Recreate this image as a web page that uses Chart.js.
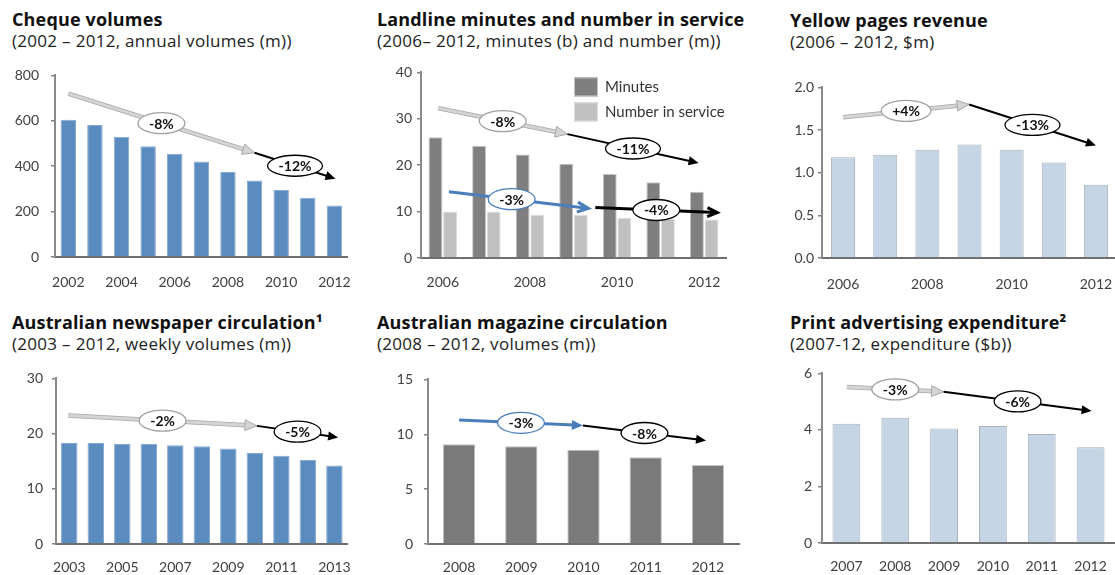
<!DOCTYPE html>
<html>
<head>
<meta charset="utf-8">
<script src="https://cdn.jsdelivr.net/npm/chart.js@4/dist/chart.umd.min.js"></script>
<style>
  body { margin: 0; width: 1115px; height: 575px; overflow: hidden; position: relative; background: #fff; }
  .t { position: absolute; font: bold 18px/20px 'Open Sans', sans-serif; letter-spacing: 0.15px; color: #111; white-space: nowrap; }
  .s { position: absolute; font: 17px/20px 'Open Sans', sans-serif; letter-spacing: 0.3px; color: #222; white-space: nowrap; }
  canvas { position: absolute; }
</style>
</head>
<body>
<div class="t" style="left:12px;top:9px">Cheque volumes</div>
<div class="s" style="left:12px;top:31px">(2002 – 2012, annual volumes (m))</div>
<div class="t" style="left:377px;top:9px">Landline minutes and number in service</div>
<div class="s" style="left:377px;top:31px">(2006– 2012, minutes (b) and number (m))</div>
<div class="t" style="left:790px;top:10px">Yellow pages revenue</div>
<div class="s" style="left:790px;top:32px">(2006 – 2012, $m)</div>
<div class="t" style="left:12px;top:312px">Australian newspaper circulation¹</div>
<div class="s" style="left:12px;top:334px">(2003 – 2012, weekly volumes (m))</div>
<div class="t" style="left:377px;top:312px">Australian magazine circulation</div>
<div class="s" style="left:377px;top:334px">(2008 – 2012, volumes (m))</div>
<div class="t" style="left:790px;top:312px">Print advertising expenditure²</div>
<div class="s" style="left:790px;top:334px">(2007-12, expenditure ($b))</div>

<canvas id="cheque"></canvas>
<canvas id="landline"></canvas>
<canvas id="yellow"></canvas>
<canvas id="newspaper"></canvas>
<canvas id="magazine"></canvas>
<canvas id="printAdv"></canvas>

<script>
// ---- data ----
const chequeYears = ['2002', '2003', '2004', '2005', '2006', '2007', '2008', '2009', '2010', '2011', '2012'];
const chequeVolumes = [605, 581, 530, 488, 455, 421, 375, 337, 295, 261, 227];
const chequeTrends = [
  { from: [0, 720], to: [7, 459], label: '-8%', style: 'grey' },
  { from: [7, 459], to: [10.04, 345], label: '-12%', style: 'black' }
];

const landlineYears = ['2006', '2007', '2008', '2009', '2010', '2011', '2012'];
const landlineMinutes = [26, 24.2, 22.3, 20.3, 18.1, 16.3, 14.3];
const landlineInService = [10, 10, 9.3, 9.3, 8.7, 8.5, 8.3];
const landlineTrends = [
  { from: [-0.11, 32.3], to: [2.86, 26.7], label: '-8%', style: 'grey' },
  { from: [2.86, 26.7], to: [5.87, 20.5], label: '-11%', style: 'black' },
  { from: [0.14, 14.3], to: [3.34, 10.7], label: '-3%', style: 'blue', open: true, at: 0.45 },
  { from: [3.5, 10.9], to: [6.3, 9.8], label: '-4%', style: 'black', open: true, width: 3 }
];

const yellowYears = ['2006', '2007', '2008', '2009', '2010', '2011', '2012'];
const yellowRevenue = [1.18, 1.21, 1.27, 1.33, 1.27, 1.12, 0.86];
const yellowTrends = [
  { from: [0, 1.65], to: [2.99, 1.80], label: '+4%', style: 'grey' },
  { from: [2.99, 1.80], to: [6.0, 1.32], label: '-13%', style: 'black' }
];

const newspaperYears = ['2003', '2004', '2005', '2006', '2007', '2008', '2009', '2010', '2011', '2012', '2013'];
const newspaperVolumes = [18.3, 18.3, 18.1, 18.1, 17.9, 17.7, 17.3, 16.5, 16.0, 15.2, 14.2];
const newspaperTrends = [
  { from: [-0.04, 23.3], to: [7.08, 21.4], label: '-2%', style: 'grey' },
  { from: [7.08, 21.4], to: [10.14, 19.3], label: '-5%', style: 'black' }
];

const magazineYears = ['2008', '2009', '2010', '2011', '2012'];
const magazineVolumes = [9.1, 8.9, 8.6, 7.9, 7.2];
const magazineTrends = [
  { from: [0, 11.29], to: [1.99, 10.8], label: '-3%', style: 'blue' },
  { from: [1.99, 10.8], to: [3.97, 9.43], label: '-8%', style: 'black' }
];

const printYears = ['2007', '2008', '2009', '2010', '2011', '2012'];
const printSpend = [4.22, 4.43, 4.05, 4.14, 3.86, 3.39];
const printTrends = [
  { from: [0.01, 5.52], to: [1.99, 5.35], label: '-3%', style: 'grey' },
  { from: [1.99, 5.35], to: [5.02, 4.67], label: '-6%', style: 'black' }
];

// ---- styles ----
const BLUE = '#5b8cbf', BLUE_EDGE = '#86a9d0';
const PALE = '#c5d5e6', PALE_EDGE = '#a8b2bd';
const DARK = '#7f7f7f', DARK_EDGE = '#c4c4c4';
const LIGHT = '#c0c0c0', LIGHT_EDGE = '#dddddd';

const tickFont = { family: 'Lato', size: 14 };
const tickColor = '#404040';

const arrowStyles = {
  grey:  { line: '#d4d4d4', edge: '#a8a8a8', width: 3, head: 12, ring: '#a0a0a0' },
  black: { line: '#000000', width: 2, head: 10, ring: '#000000' },
  blue:  { line: '#4a7ebb', width: 3, head: 11, ring: '#4a7ebb' }
};

function strokeLine(ctx, x1, y1, x2, y2) {
  ctx.beginPath();
  ctx.moveTo(x1, y1);
  ctx.lineTo(x2, y2);
  ctx.stroke();
}

function drawArrow(ctx, x1, y1, x2, y2, st, item) {
  const ang = Math.atan2(y2 - y1, x2 - x1);
  const cos = Math.cos(ang), sin = Math.sin(ang);
  const hl = st.head, hw = hl * 0.45;
  const w = item.width || st.width;
  const stop = item.open ? 1 : hl * 0.8;
  const bx = x2 - cos * stop, by = y2 - sin * stop;
  ctx.lineCap = 'butt';
  if (st.edge) {
    ctx.strokeStyle = st.edge;
    ctx.lineWidth = w + 1.5;
    strokeLine(ctx, x1, y1, bx, by);
  }
  ctx.strokeStyle = st.line;
  ctx.lineWidth = w;
  strokeLine(ctx, x1, y1, bx, by);

  const lx = x2 - cos * hl + sin * hw, ly = y2 - sin * hl - cos * hw;
  const rx = x2 - cos * hl - sin * hw, ry = y2 - sin * hl + cos * hw;
  ctx.beginPath();
  ctx.moveTo(lx, ly);
  ctx.lineTo(x2, y2);
  ctx.lineTo(rx, ry);
  if (item.open) {
    ctx.lineJoin = 'miter';
    ctx.stroke();
  } else {
    ctx.closePath();
    ctx.fillStyle = st.line;
    ctx.fill();
    if (st.edge) {
      ctx.strokeStyle = st.edge;
      ctx.lineWidth = 1;
      ctx.stroke();
    }
  }
}

// trend arrows with a ringed growth label, placed in data units
function trendPlugin(trends) {
  return {
    id: 'trendArrows',
    afterDatasetsDraw(chart) {
      const ctx = chart.ctx, xs = chart.scales.x, ys = chart.scales.y;
      const pts = trends.map(t => ({
        t,
        x1: xs.getPixelForValue(t.from[0]), y1: ys.getPixelForValue(t.from[1]),
        x2: xs.getPixelForValue(t.to[0]), y2: ys.getPixelForValue(t.to[1])
      }));
      ctx.save();
      pts.forEach(p => drawArrow(ctx, p.x1, p.y1, p.x2, p.y2, arrowStyles[p.t.style], p.t));
      ctx.font = 'bold 14px Lato';
      ctx.textAlign = 'center';
      ctx.textBaseline = 'middle';
      pts.forEach(p => {
        const f = p.t.at || 0.5;
        const cx = p.x1 + (p.x2 - p.x1) * f, cy = p.y1 + (p.y2 - p.y1) * f;
        const w = ctx.measureText(p.t.label).width;
        ctx.beginPath();
        ctx.ellipse(cx, cy, w / 2 + 11, 10.5, 0, 0, Math.PI * 2);
        ctx.fillStyle = '#fff';
        ctx.fill();
        ctx.strokeStyle = arrowStyles[p.t.style].ring;
        ctx.lineWidth = 1.3;
        ctx.stroke();
        ctx.fillStyle = '#111';
        ctx.fillText(p.t.label, cx, cy + 1);
      });
      ctx.restore();
    }
  };
}

const boxLegend = {
  id: 'boxLegend',
  afterDraw(chart) {
    const ctx = chart.ctx, a = chart.chartArea;
    ctx.save();
    chart.data.datasets.forEach((ds, i) => {
      const x = a.left + 153, y = a.top + 5 + i * 25;
      ctx.fillStyle = ds.backgroundColor;
      ctx.fillRect(x, y, 24, 19);
      ctx.strokeStyle = ds.borderColor;
      ctx.lineWidth = 1;
      ctx.strokeRect(x + 0.5, y + 0.5, 23, 18);
      ctx.fillStyle = '#333';
      ctx.font = '15px Lato';
      ctx.textBaseline = 'middle';
      ctx.fillText(ds.label, x + 31, y + 10);
    });
    ctx.restore();
  }
};

// box = plot area in page pixels
function makeChart(id, box, labels, datasets, y, opts) {
  const yw = 48, padL = 2, padT = 12, padR = 8, xh = 46;
  const left = box.x0 - yw - padL, top = box.y0 - padT;
  const canvas = document.getElementById(id);
  canvas.style.left = left + 'px';
  canvas.style.top = top + 'px';
  canvas.width = Math.round(box.x1 + padR - left);
  canvas.height = Math.round(box.y1 + xh - top);
  const every = opts.every || 1;

  return new Chart(canvas, {
    type: 'bar',
    data: { labels: labels, datasets: datasets },
    options: {
      responsive: false,
      animation: false,
      devicePixelRatio: 1,
      layout: { padding: { left: padL, top: padT, right: padR, bottom: 0 } },
      plugins: { legend: { display: false }, tooltip: { enabled: false } },
      scales: {
        x: {
          grid: { display: false },
          border: { color: '#6e6e6e', width: 2 },
          ticks: {
            font: tickFont, color: tickColor, padding: opts.xpad,
            autoSkip: false, maxRotation: 0,
            callback: (v, i) => (i % every === 0 ? labels[i] : '')
          },
          afterFit: s => { s.height = xh; }
        },
        y: {
          min: y.min, max: y.max,
          ticks: {
            stepSize: y.step, font: tickFont, color: tickColor, padding: y.pad,
            callback: y.fmt || (v => String(v))
          },
          grid: { drawOnChartArea: false, tickLength: 4, color: '#808080', lineWidth: 1.5 },
          border: { color: '#8a8a8a', width: 2 },
          afterFit: s => { s.width = yw; }
        }
      }
    },
    plugins: [trendPlugin(opts.trends)].concat(opts.plugins || [])
  });
}

function singleSeries(data, color, edge, pct) {
  return [{
    data: data, backgroundColor: color, borderColor: edge, borderWidth: 1,
    categoryPercentage: 1, barPercentage: pct
  }];
}

makeChart('cheque', { x0: 55, y0: 67, x1: 352, y1: 257 }, chequeYears,
  singleSeries(chequeVolumes, BLUE, BLUE_EDGE, 0.58),
  { min: 0, max: 800, step: 200, pad: 12 },
  { every: 2, trends: chequeTrends, xpad: 9 });

makeChart('landline', { x0: 421, y0: 71, x1: 725.5, y1: 258 }, landlineYears, [
    { label: 'Minutes', data: landlineMinutes, backgroundColor: DARK, borderColor: DARK_EDGE,
      borderWidth: 1, categoryPercentage: 0.67, barPercentage: 0.95 },
    { label: 'Number in service', data: landlineInService, backgroundColor: LIGHT, borderColor: LIGHT_EDGE,
      borderWidth: 1, categoryPercentage: 0.67, barPercentage: 0.95 }
  ],
  { min: 0, max: 40, step: 10, pad: 5 },
  { every: 2, trends: landlineTrends, xpad: 8, plugins: [boxLegend] });

makeChart('yellow', { x0: 822, y0: 87, x1: 1117.4, y1: 258 }, yellowYears,
  singleSeries(yellowRevenue, PALE, PALE_EDGE, 0.57),
  { min: 0, max: 2, step: 0.5, pad: 4, fmt: v => v.toFixed(1) },
  { every: 2, trends: yellowTrends, xpad: 10 });

makeChart('newspaper', { x0: 56, y0: 373, x1: 350, y1: 544 }, newspaperYears,
  singleSeries(newspaperVolumes, BLUE, BLUE_EDGE, 0.62),
  { min: 0, max: 30, step: 10, pad: 9 },
  { every: 2, trends: newspaperTrends, xpad: 7 });

makeChart('magazine', { x0: 428, y0: 372, x1: 738.5, y1: 544 }, magazineYears,
  singleSeries(magazineVolumes, '#7a7a7a', DARK_EDGE, 0.52),
  { min: 0, max: 15, step: 5, pad: 11 },
  { trends: magazineTrends, xpad: 7 });

makeChart('printAdv', { x0: 822, y0: 371, x1: 1115, y1: 543 }, printYears,
  singleSeries(printSpend, PALE, PALE_EDGE, 0.57),
  { min: 0, max: 6, step: 2, pad: 6 },
  { trends: printTrends, xpad: 7 });
</script>
</body>
</html>
